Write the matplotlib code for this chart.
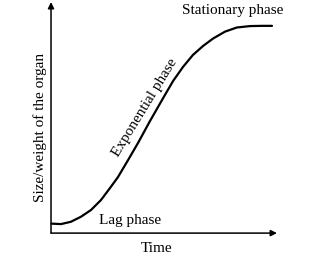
import matplotlib
matplotlib.use("Agg")
import matplotlib.pyplot as plt

plt.rcParams['font.family'] = ['Liberation Serif', 'DejaVu Serif']

# growth curve (arbitrary units)
time_vals = [0.02, 0.44, 0.88, 1.33, 1.77, 2.21, 2.61, 2.96, 3.41, 3.85, 4.38,
             4.96, 5.40, 5.84, 6.28, 6.73, 7.17, 7.70, 8.23, 8.81, 9.34, 9.78]
size_vals = [0.41, 0.39, 0.49, 0.71, 1.00, 1.43, 1.95, 2.42, 3.16, 3.90, 4.85,
             5.84, 6.58, 7.19, 7.71, 8.10, 8.42, 8.72, 8.90, 8.96, 8.97, 8.97]

phase_labels = ["Lag phase", "Exponential phase", "Stationary phase"]
phase_x = [3.5, 4.16, 8.05]
phase_y = [0.56, 5.45, 9.65]
phase_rot = [0, 58.5, 0]

x_label = "Time"
y_label = "Size/weight of the organ"

fig = plt.figure(figsize=(3.27, 2.57), dpi=100)
ax = fig.add_axes([0.156, 0.093, 0.691, 0.899])
ax.set_xlim(0, 10)
ax.set_ylim(0, 10)
ax.axis("off")

# axes with arrow heads
arrow = dict(arrowstyle='-|>', color='black', lw=1.1, mutation_scale=9,
             shrinkA=0, shrinkB=0)
ax.annotate("", xy=(10, 0), xytext=(0, 0), arrowprops=arrow, annotation_clip=False)
ax.annotate("", xy=(0, 10), xytext=(0, 0), arrowprops=arrow, annotation_clip=False)

ax.plot(time_vals, size_vals, color='black', lw=1.6, solid_joinstyle='round',
        solid_capstyle='round', clip_on=False)

for lab, x, y, r in zip(phase_labels, phase_x, phase_y, phase_rot):
    ax.text(x, y, lab, fontsize=11, rotation=r, ha='center', va='center',
            rotation_mode='anchor', clip_on=False)

ax.text(4.69, -0.65, x_label, fontsize=11, ha='center', va='center', clip_on=False)
ax.text(-0.49, 4.59, y_label, fontsize=11, rotation=90, ha='center', va='center',
        clip_on=False)

fig.savefig("out.png", dpi=100)
